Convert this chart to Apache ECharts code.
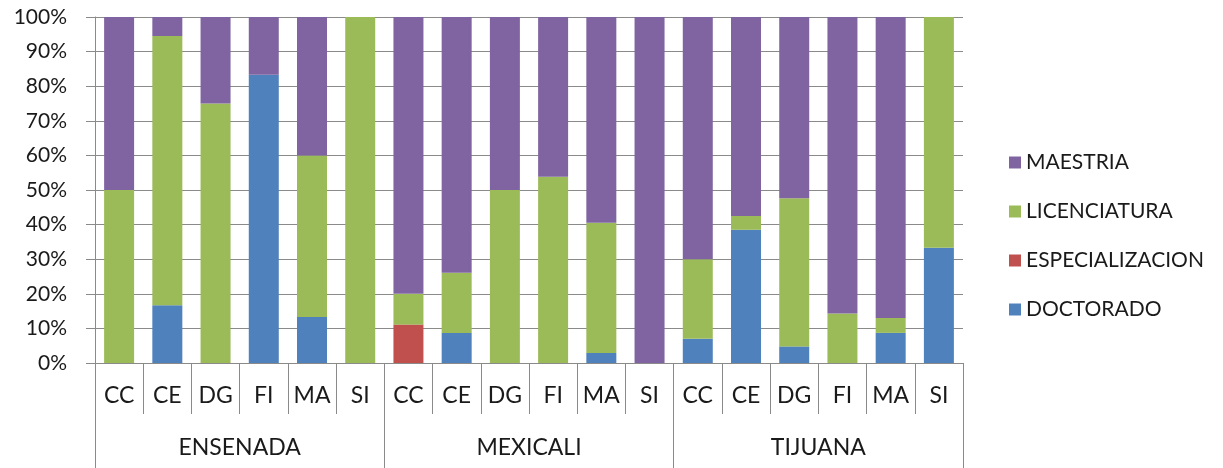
<!DOCTYPE html>
<html>
<head>
<meta charset="utf-8">
<script src="https://cdn.jsdelivr.net/npm/echarts@6/dist/echarts.min.js"></script>
<style>
  html, body { margin: 0; padding: 0; background: #ffffff; }
  #chart { width: 1223px; height: 468px; }
</style>
</head>
<body>
<div id="chart"></div>
<script>
// Programs per campus (inner axis) and campus (outer axis)
const programs = ['CC', 'CE', 'DG', 'FI', 'MA', 'SI', 'CC', 'CE', 'DG', 'FI', 'MA', 'SI', 'CC', 'CE', 'DG', 'FI', 'MA', 'SI'];
const campuses = ['ENSENADA', 'MEXICALI', 'TIJUANA'];

// Share of each degree level, percent of each program
const doctorado        = [0, 16.7, 0, 83.3, 13.3, 0,   0, 8.7, 0, 0, 2.9, 0,   7, 38.5, 4.8, 0, 8.7, 33.3];
const especializacion  = [0, 0, 0, 0, 0, 0,            11.1, 0, 0, 0, 0, 0,    0, 0, 0, 0, 0, 0];
const licenciatura     = [50, 77.8, 75, 0, 46.7, 100,  8.9, 17.4, 50, 53.8, 37.6, 0,   23, 4, 42.8, 14.3, 4.3, 66.7];
const maestria         = [50, 5.5, 25, 16.7, 40, 0,    80, 73.9, 50, 46.2, 59.5, 100,  70, 57.5, 52.4, 85.7, 87, 0];

const yTicks = { min: 0, max: 100, interval: 10 };

const FONT = 'Lato, "Open Sans", sans-serif';
const LINE = '#8a8a8a';
const TEXT = '#1a1a1a';

const chart = echarts.init(document.getElementById('chart'), null, { renderer: 'canvas' });

function barSeries(name, data, color) {
  return {
    name: name,
    type: 'bar',
    stack: 'total',
    data: data,
    barWidth: 30,
    itemStyle: { color: color },
    emphasis: { disabled: true }
  };
}

chart.setOption({
  animation: false,
  backgroundColor: '#ffffff',
  grid: { left: 95, right: 260, top: 17, bottom: 105, containLabel: false },
  legend: {
    orient: 'vertical',
    left: 1004,
    top: 147,
    itemWidth: 12,
    itemHeight: 12,
    itemGap: 28,
    icon: 'rect',
    data: ['MAESTRIA', 'LICENCIATURA', 'ESPECIALIZACION', 'DOCTORADO'],
    textStyle: { fontFamily: FONT, fontSize: 21, color: TEXT, lineHeight: 21, padding: [0, 0, 0, 0] }
  },
  xAxis: [
    {
      type: 'category',
      position: 'bottom',
      data: programs,
      axisLine: { show: true, lineStyle: { color: LINE, width: 1 } },
      axisTick: { show: true, interval: 0, length: 51, lineStyle: { color: LINE } },
      axisLabel: { interval: 0, margin: 21, fontFamily: FONT, fontSize: 23, color: TEXT },
      splitLine: { show: false }
    },
    {
      type: 'category',
      position: 'bottom',
      offset: 0,
      data: campuses,
      axisLine: { show: false },
      axisTick: { show: true, interval: 0, length: 106, lineStyle: { color: LINE } },
      axisLabel: { interval: 0, margin: 73, fontFamily: FONT, fontSize: 23, color: TEXT },
      splitLine: { show: false }
    }
  ],
  yAxis: {
    type: 'value',
    min: yTicks.min,
    max: yTicks.max,
    interval: yTicks.interval,
    axisLine: { show: true, lineStyle: { color: LINE } },
    axisTick: { show: true, length: 9, lineStyle: { color: LINE } },
    axisLabel: { formatter: '{value}%', margin: 28, fontFamily: FONT, fontSize: 21, color: TEXT },
    splitLine: { show: true, lineStyle: { color: LINE, width: 1 } }
  },
  series: [
    barSeries('DOCTORADO', doctorado, '#4f81bd'),
    barSeries('ESPECIALIZACION', especializacion, '#c0504d'),
    barSeries('LICENCIATURA', licenciatura, '#9bbb59'),
    barSeries('MAESTRIA', maestria, '#8064a2')
  ]
});
</script>
</body>
</html>
